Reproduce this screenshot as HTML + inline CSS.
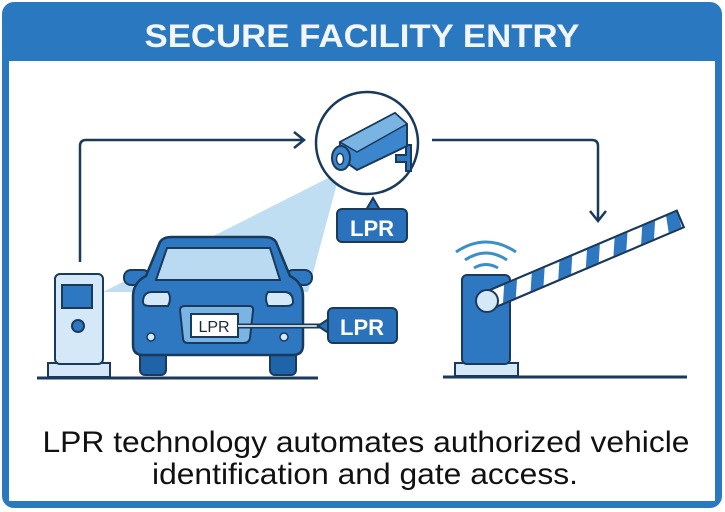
<!DOCTYPE html>
<html><head><meta charset="utf-8"><style>
html,body{margin:0;padding:0;background:#fff;}
svg{display:block;}
</style></head><body>
<svg width="725" height="512" viewBox="0 0 725 512" xmlns="http://www.w3.org/2000/svg" font-family="Liberation Sans, sans-serif">
<rect x="2" y="2" width="720" height="506" rx="12" fill="#2a78bf"/>
<rect x="9" y="61" width="706" height="440" fill="#fff"/>
<text x="362" y="47" text-anchor="middle" font-size="32" font-weight="bold" fill="#f2f6fb" textLength="435" lengthAdjust="spacingAndGlyphs">SECURE FACILITY ENTRY</text>

<!-- beam -->
<polygon points="340,172 103,292 308,292" fill="#b9daf0" opacity="0.9"/>

<!-- arrows -->
<path d="M80,262 V146 Q80,140 86,140 H304" fill="none" stroke="#1a3a5c" stroke-width="2.5"/>
<path d="M294,132 L304,140 L294,148" fill="none" stroke="#1a3a5c" stroke-width="2.5"/>
<path d="M432,140 H592 Q598,140 598,146 V220" fill="none" stroke="#1a3a5c" stroke-width="2.5"/>
<path d="M590,211 L598,221 L606,211" fill="none" stroke="#1a3a5c" stroke-width="2.5"/>

<!-- camera -->
<circle cx="367" cy="143" r="51" fill="#fff" stroke="#1a3a5c" stroke-width="2.5"/>
<path d="M396,155 h10 v-10 h5 v26 h-5 v-9 h-10 z" fill="#2e78c2" stroke="#1a3a5c" stroke-width="2"/>
<polygon points="340,142 395,113 407,124 407,146 357,170 340,158" fill="#3b86cc" stroke="#1a3a5c" stroke-width="2"/>
<polygon points="340,142 395,113 407,124 357,152" fill="#7ab4e2" stroke="#1a3a5c" stroke-width="1.5"/>
<ellipse cx="341" cy="158" rx="9" ry="12" fill="#3b86cc" stroke="#1a3a5c" stroke-width="2"/>
<ellipse cx="340" cy="159" rx="3.5" ry="5.5" fill="#fff" stroke="#1a3a5c" stroke-width="1.5"/>
<path d="M366,210 L373,198 L380,210" fill="#2a72bc" stroke="#1a3a5c" stroke-width="2"/>
<rect x="337" y="209" width="70" height="33" rx="5" fill="#2a72bc" stroke="#1a3a5c" stroke-width="2"/>
<text x="372" y="236" text-anchor="middle" font-size="22" font-weight="bold" fill="#fff">LPR</text>

<!-- kiosk -->
<rect x="48" y="363" width="62" height="14" fill="#d4e8f7" stroke="#1a3a5c" stroke-width="2"/>
<rect x="55" y="274" width="48" height="90" rx="5" fill="#d4e8f7" stroke="#1a3a5c" stroke-width="2"/>
<rect x="62" y="285" width="30" height="23" fill="#2e78c2" stroke="#1a3a5c" stroke-width="2"/>
<circle cx="78" cy="326" r="6" fill="#2e78c2" stroke="#1a3a5c" stroke-width="2"/>
<line x1="37" y1="378" x2="318" y2="378" stroke="#1a3a5c" stroke-width="3"/>

<!-- car -->
<rect x="140" y="345" width="26" height="30" rx="5" fill="#1f63a8" stroke="#1a3a5c" stroke-width="2"/>
<rect x="270" y="345" width="26" height="30" rx="5" fill="#1f63a8" stroke="#1a3a5c" stroke-width="2"/>
<rect x="124" y="270" width="26" height="15" rx="7" fill="#2e78c2" stroke="#1a3a5c" stroke-width="2"/>
<rect x="286" y="270" width="26" height="15" rx="7" fill="#2e78c2" stroke="#1a3a5c" stroke-width="2"/>
<path d="M160,242 Q163,237 172,237 H264 Q273,237 276,242 L290,276 Q302,282 303,295 V345 Q303,355 293,355 H143 Q133,355 133,345 V295 Q134,282 146,276 Z" fill="#2e78c2" stroke="#1a3a5c" stroke-width="2.5"/>
<path d="M167,248 H270 L280,280 H156 Z" fill="#b9daf0" stroke="#1a3a5c" stroke-width="2"/>
<path d="M143,302 Q143,292 152,292 H168 Q172,298 168,306 H150 Q143,306 143,302 Z" fill="#d4e8f7" stroke="#1a3a5c" stroke-width="2"/>
<path d="M293,302 Q293,292 284,292 H268 Q264,298 268,306 H286 Q293,306 293,302 Z" fill="#d4e8f7" stroke="#1a3a5c" stroke-width="2"/>
<circle cx="151" cy="337" r="4" fill="#d4e8f7" stroke="#1a3a5c" stroke-width="1.5"/>
<circle cx="284" cy="337" r="4" fill="#d4e8f7" stroke="#1a3a5c" stroke-width="1.5"/>
<path d="M180,310 Q180,306 185,306 H249 Q254,306 253,311 L250,338 Q249,343 244,343 H188 Q183,343 183,338 Z" fill="#7ab4e2" stroke="#1a3a5c" stroke-width="2"/>
<rect x="191" y="314" width="47" height="23" fill="#fff" stroke="#1a3a5c" stroke-width="2"/>
<text x="214" y="332" text-anchor="middle" font-size="16" fill="#1a2a3a">LPR</text>
<line x1="238" y1="326" x2="322" y2="326" stroke="#1a3a5c" stroke-width="5"/>
<line x1="238" y1="326" x2="322" y2="326" stroke="#fff" stroke-width="1.5"/>
<path d="M330,318 L318,326 L330,334" fill="#2a72bc" stroke="#1a3a5c" stroke-width="2"/>
<rect x="328" y="308" width="69" height="35" rx="5" fill="#2a72bc" stroke="#1a3a5c" stroke-width="2"/>
<text x="362" y="335" text-anchor="middle" font-size="22" font-weight="bold" fill="#fff">LPR</text>

<!-- barrier -->
<path d="M456,252 Q486,232 516,252" fill="none" stroke="#3a8fc8" stroke-width="3"/>
<path d="M465,260 Q486,246 507,260" fill="none" stroke="#3a8fc8" stroke-width="3"/>
<path d="M474,268 Q486,261 498,268" fill="none" stroke="#3a8fc8" stroke-width="3"/>
<rect x="455" y="363" width="63" height="13" fill="#d4e8f7" stroke="#1a3a5c" stroke-width="2"/>
<rect x="462" y="275" width="48" height="89" rx="5" fill="#2e78c2" stroke="#1a3a5c" stroke-width="2"/>
<g transform="translate(487,301) rotate(-23)">
<rect x="0" y="-9" width="210" height="18" fill="#fff" stroke="#1a3a5c" stroke-width="2"/>
<g fill="#2e78c2">
<polygon points="22,-8 36,-8 28,8 14,8"/><polygon points="52,-8 66,-8 58,8 44,8"/>
<polygon points="82,-8 96,-8 88,8 74,8"/><polygon points="112,-8 126,-8 118,8 104,8"/>
<polygon points="142,-8 156,-8 148,8 134,8"/><polygon points="172,-8 186,-8 178,8 164,8"/>
<polygon points="198,-8 210,-8 208,8 194,8"/>
</g>
<rect x="0" y="-9" width="210" height="18" fill="none" stroke="#1a3a5c" stroke-width="2"/>
</g>
<circle cx="487" cy="301" r="11" fill="#d4e8f7" stroke="#1a3a5c" stroke-width="2"/>
<line x1="443" y1="377" x2="687" y2="377" stroke="#1a3a5c" stroke-width="3"/>

<text x="366" y="452" text-anchor="middle" font-size="30" fill="#111" textLength="647" lengthAdjust="spacingAndGlyphs">LPR technology automates authorized vehicle</text>
<text x="365" y="484" text-anchor="middle" font-size="30" fill="#111" textLength="426" lengthAdjust="spacingAndGlyphs">identification and gate access.</text>
</svg>
</body></html>
